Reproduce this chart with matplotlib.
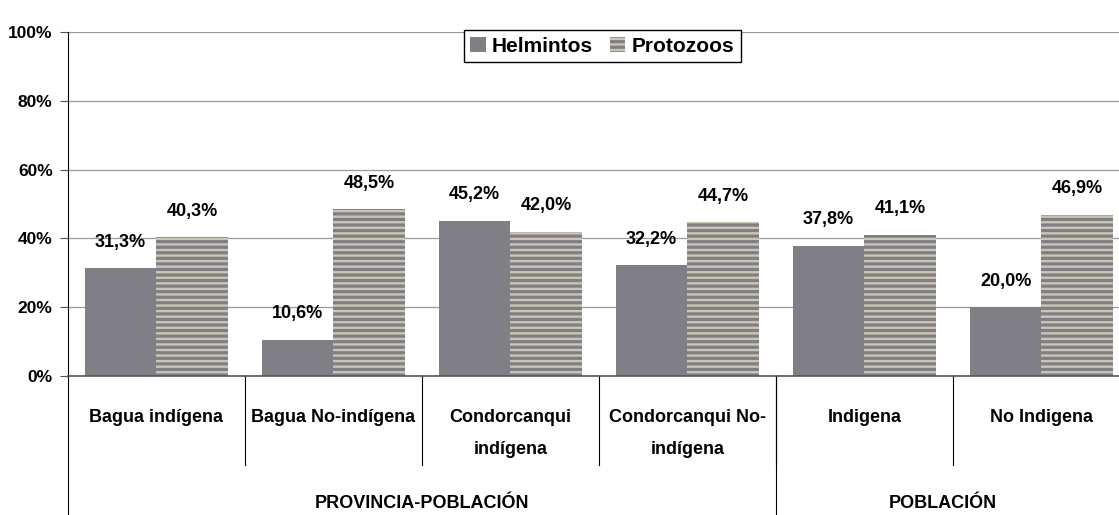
import numpy as np
import matplotlib.pyplot as plt
from matplotlib.transforms import blended_transform_factory
from matplotlib.ticker import FuncFormatter

plt.rcParams['font.family'] = ['Liberation Sans', 'DejaVu Sans']
plt.rcParams['font.weight'] = 'bold'
plt.rcParams['hatch.linewidth'] = 2.3

# datos
categorias = ['Bagua indígena', 'Bagua No-indígena', 'Condorcanqui\nindígena',
              'Condorcanqui No-\nindígena', 'Indigena', 'No Indigena']
grupos = ['PROVINCIA-POBLACIÓN', 'POBLACIÓN']
grupo_tam = [4, 2]
helmintos = [31.3, 10.6, 45.2, 32.2, 37.8, 20.0]
protozoos = [40.3, 48.5, 42.0, 44.7, 41.1, 46.9]

gris = '#7f7f85'
beige = '#cdc5b4'

fig = plt.figure(figsize=(11.19, 5.15), dpi=100)
ax = fig.add_axes([68 / 1119, 1 - 376 / 515, 1062 / 1119, 344 / 515])

x = np.arange(len(categorias))
w = 0.405
ax.bar(x - w / 2, helmintos, w, color=gris, linewidth=0, label='Helmintos', zorder=2)
ax.bar(x + w / 2, protozoos, w, facecolor=beige, hatch='---', edgecolor=gris,
       linewidth=0, label='Protozoos', zorder=2)

# etiquetas de valores
for i in range(len(x)):
    ax.text(x[i] - w / 2, helmintos[i] + 7.6, f'{helmintos[i]:.1f}%'.replace('.', ','),
            ha='center', va='center', fontsize=13)
    ax.text(x[i] + w / 2, protozoos[i] + 7.6, f'{protozoos[i]:.1f}%'.replace('.', ','),
            ha='center', va='center', fontsize=13)

ax.set_xlim(-0.5, len(x) - 0.5)
ax.set_ylim(0, 100)
ax.set_yticks([0, 20, 40, 60, 80, 100])
ax.yaxis.set_major_formatter(FuncFormatter(lambda v, p: f'{v:.0f}%'))
ax.tick_params(axis='y', labelsize=12.5, length=6, color='#555555', pad=5)
ax.set_xticks([])
ax.yaxis.grid(True, color='#999999', linewidth=0.9)
ax.set_axisbelow(True)
for s in ['top', 'right']:
    ax.spines[s].set_visible(False)
ax.spines['bottom'].set_color('#555555')
ax.spines['bottom'].set_linewidth(1.2)

# eje de categorías
tr = blended_transform_factory(ax.transData, ax.transAxes)
for i, c in enumerate(categorias):
    lineas = c.split('\n')
    for j, l in enumerate(lineas):
        ax.text(x[i], -0.12 - j * 0.095, l, transform=tr, ha='center', va='center',
                fontsize=13)
for i in range(1, len(categorias)):
    ax.plot([i - 0.5, i - 0.5], [0, -0.26], transform=tr, color='black',
            linewidth=0.8, clip_on=False)
inicio = -0.5
for g, n in zip(grupos, grupo_tam):
    ax.plot([inicio, inicio], [0, -0.42], transform=tr, color='black',
            linewidth=0.8, clip_on=False)
    ax.text(inicio + n / 2 - (0.06 if n == 2 else 0), -0.37, g, transform=tr,
            ha='center', va='center', fontsize=13)
    inicio += n

leg = ax.legend(loc='upper center', bbox_to_anchor=(0.503, 1.035), ncol=2,
                frameon=True, fancybox=False, edgecolor='black', fontsize=15,
                handlelength=0.75, handleheight=0.75, handletextpad=0.3,
                columnspacing=0.8, borderpad=0.3, framealpha=1)
leg.get_frame().set_linewidth(1.0)

plt.savefig('out.png', dpi=100)
